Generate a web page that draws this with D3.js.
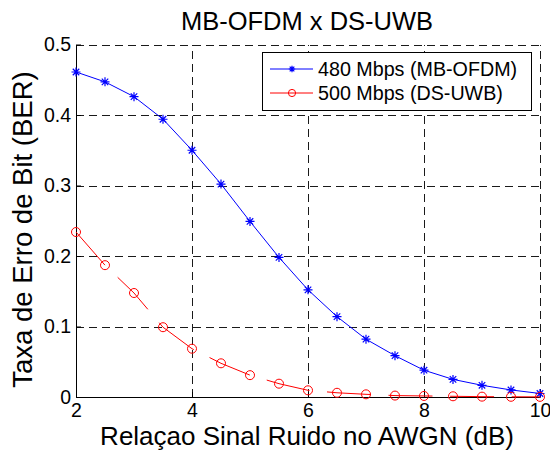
<!DOCTYPE html>
<html>
<head>
<meta charset="utf-8">
<script src="https://cdn.jsdelivr.net/npm/d3@7"></script>
<style>
	body { margin: 0; background: #fff; }
	text { font-family: "Liberation Sans", Arial, sans-serif; fill: #000; }
</style>
</head>
<body>
<div class="chart"></div>
<script>
// data
var snr = [2, 2.5, 3, 3.5, 4, 4.5, 5, 5.5, 6, 6.5, 7, 7.5, 8, 8.5, 9, 9.5, 10];
var berOFDM = [0.461, 0.447, 0.426, 0.394, 0.350, 0.302, 0.249, 0.198, 0.152, 0.114, 0.082, 0.0586, 0.038, 0.025, 0.0166, 0.010, 0.005];
var berUWB = [0.234, 0.187, 0.1475, 0.099, 0.0685, 0.0478, 0.031, 0.0189, 0.0095, 0.006, 0.0038, 0.002, 0.0015, 0.001, 0.0005, 0.0003, 0.0002];
var xTicks = [2, 4, 6, 8, 10];
var yTicks = [0, 0.1, 0.2, 0.3, 0.4, 0.5];
var seriesNames = ["480 Mbps (MB-OFDM)", "500 Mbps (DS-UWB)"];

var W = 550, H = 452;
var margin = {left: 76, right: 540, top: 44.5, bottom: 397};

var svg = d3.select(".chart").append("svg")
	.attr("width", W)
	.attr("height", H);

var x = d3.scaleLinear().domain([2, 10]).range([margin.left, margin.right]);
var y = d3.scaleLinear().domain([0, 0.5]).range([margin.bottom, margin.top]);

// grid (dashed), drawn first
var grid = svg.append("g")
	.attr("stroke", "#1a1a1a")
	.attr("stroke-width", 1)
	.attr("stroke-dasharray", "8,5")
	.attr("shape-rendering", "crispEdges");
grid.selectAll(".gx")
	.data(xTicks.slice(1))
	.enter().append("line")
	.attr("x1", function (d) { return Math.round(x(d)) + 0.5; })
	.attr("x2", function (d) { return Math.round(x(d)) + 0.5; })
	.attr("y1", margin.bottom)
	.attr("y2", margin.top);
grid.selectAll(".gy")
	.data(yTicks.slice(1))
	.enter().append("line")
	.attr("y1", function (d) { return Math.round(y(d)) + 0.5; })
	.attr("y2", function (d) { return Math.round(y(d)) + 0.5; })
	.attr("x1", margin.left)
	.attr("x2", margin.right);

// axes, ticks pointing inward
var fmt = d3.format("~g");
var xAxis = svg.append("g")
	.attr("transform", "translate(0," + margin.bottom + ")")
	.call(d3.axisBottom(x).tickValues(xTicks).tickFormat(fmt).tickSizeInner(-5).tickSizeOuter(0).tickPadding(6));
var yAxis = svg.append("g")
	.attr("transform", "translate(" + margin.left + ",0)")
	.call(d3.axisLeft(y).tickValues(yTicks).tickFormat(fmt).tickSizeInner(-5).tickSizeOuter(0).tickPadding(5));
[xAxis, yAxis].forEach(function (a) {
	a.selectAll("text").style("font-size", "19.5px").attr("fill", "#000");
	a.selectAll("line, path").attr("stroke", "#000");
});

// markers
function asterisk(s) {
	var a = s * 0.72;
	return "M" + (-s) + ",0H" + s + "M0," + (-s) + "V" + s +
		"M" + (-a) + "," + (-a) + "L" + a + "," + a +
		"M" + (-a) + "," + a + "L" + a + "," + (-a);
}

var line = d3.line()
	.x(function (d) { return x(d[0]); })
	.y(function (d) { return y(d[1]); });

var ofdm = snr.map(function (d, i) { return [d, berOFDM[i]]; });
var uwb = snr.map(function (d, i) { return [d, berUWB[i]]; });

svg.append("path")
	.attr("d", line(ofdm))
	.attr("fill", "none")
	.attr("stroke", "#0000ff")
	.attr("stroke-width", 1);
svg.append("g").selectAll("path")
	.data(ofdm)
	.enter().append("path")
	.attr("transform", function (d) { return "translate(" + x(d[0]) + "," + y(d[1]) + ")"; })
	.attr("d", asterisk(4.5))
	.attr("stroke", "#0000ff")
	.attr("stroke-width", 1.2)
	.attr("fill", "none");

svg.append("path")
	.attr("d", line(uwb))
	.attr("fill", "none")
	.attr("stroke", "#ff0000")
	.attr("stroke-width", 1)
	.attr("stroke-dasharray", "44,17.6");
svg.append("g").selectAll("circle")
	.data(uwb)
	.enter().append("circle")
	.attr("cx", function (d) { return x(d[0]); })
	.attr("cy", function (d) { return y(d[1]); })
	.attr("r", 4.5)
	.attr("fill", "none")
	.attr("stroke", "#ff0000")
	.attr("stroke-width", 1);

// legend
var lg = svg.append("g");
lg.append("rect")
	.attr("x", 262.5).attr("y", 52.5)
	.attr("width", 269).attr("height", 58)
	.attr("fill", "#fff").attr("stroke", "#000");
var colors = ["#0000ff", "#ff0000"];
seriesNames.forEach(function (name, i) {
	var cy = 69 + i * 24;
	lg.append("line")
		.attr("x1", 270).attr("x2", 313)
		.attr("y1", cy).attr("y2", cy)
		.attr("stroke", colors[i]);
	if (i === 0) {
		lg.append("path")
			.attr("transform", "translate(292," + cy + ")")
			.attr("d", asterisk(3.2))
			.attr("stroke", colors[i]).attr("stroke-width", 1.2);
	} else {
		lg.append("circle")
			.attr("cx", 292).attr("cy", cy).attr("r", 3.6)
			.attr("fill", "none").attr("stroke", colors[i]);
	}
	lg.append("text")
		.attr("x", 318).attr("y", cy)
		.attr("dy", "0.36em")
		.style("font-size", "19.7px")
		.text(name);
});

// title and axis labels
svg.append("text")
	.attr("x", 307).attr("y", 30)
	.attr("text-anchor", "middle")
	.style("font-size", "25.5px")
	.text("MB-OFDM x DS-UWB");
svg.append("text")
	.attr("x", 307).attr("y", 445)
	.attr("text-anchor", "middle")
	.style("font-size", "26px")
	.text("Relaçao Sinal Ruido no AWGN (dB)");
svg.append("text")
	.attr("transform", "translate(32,229.5) rotate(-90)")
	.attr("text-anchor", "middle")
	.style("font-size", "27.5px")
	.text("Taxa de Erro de Bit (BER)");
</script>
</body>
</html>
